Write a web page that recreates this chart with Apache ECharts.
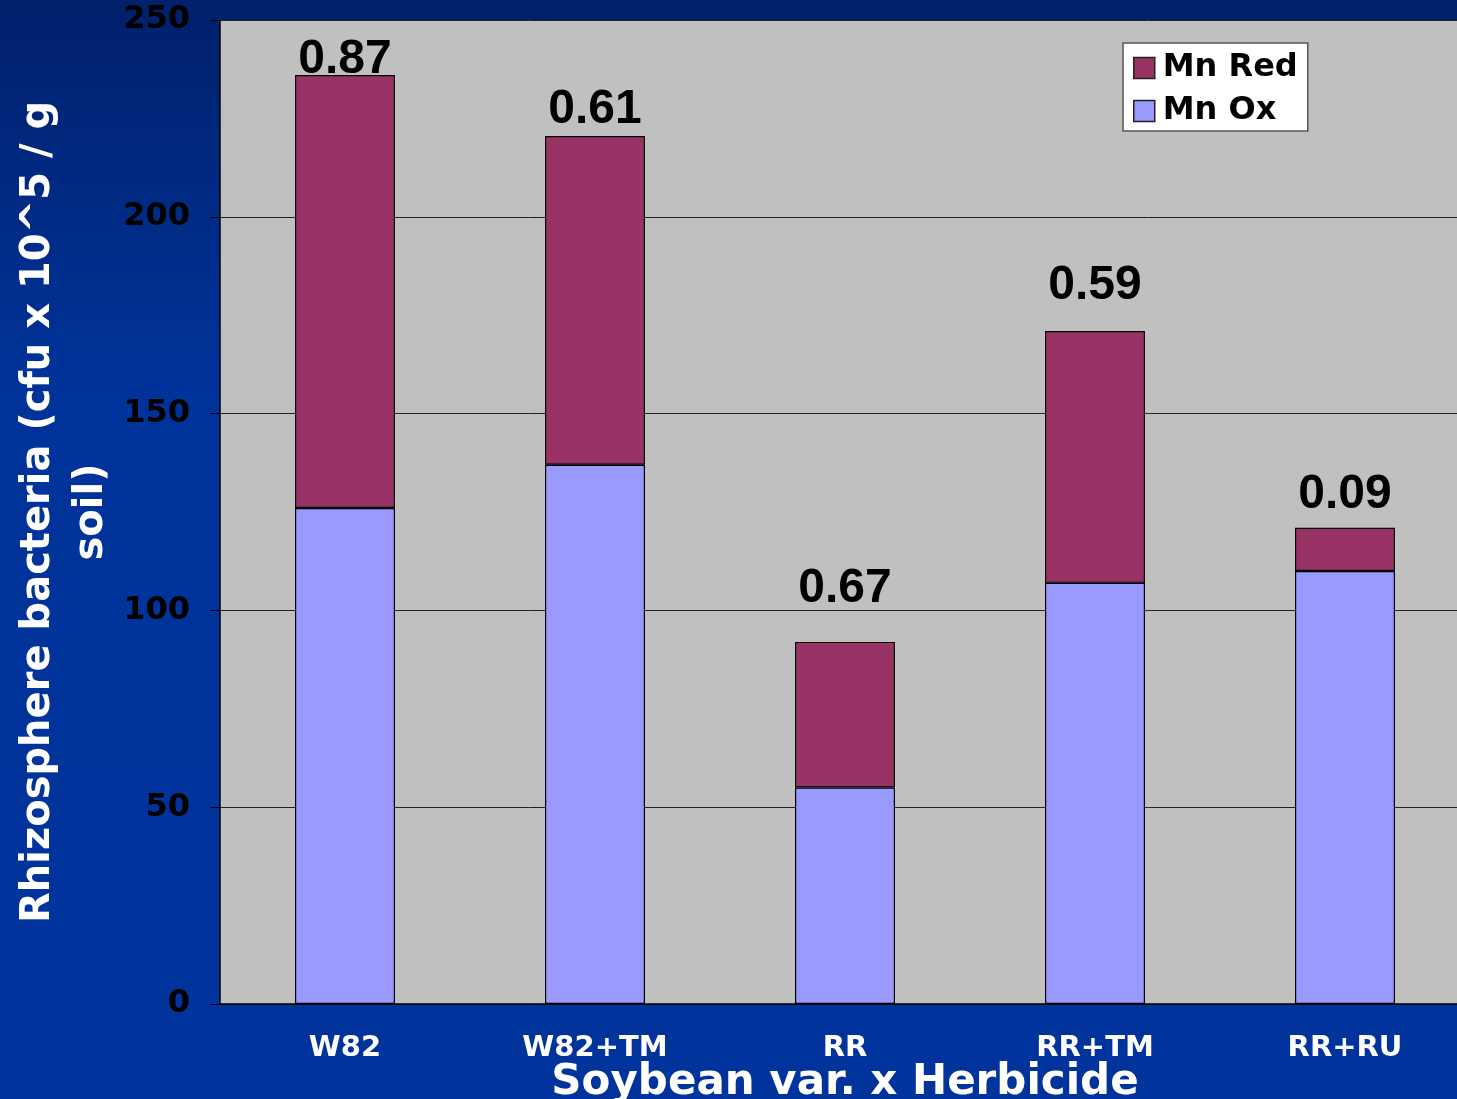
<!DOCTYPE html>
<html>
<head>
<meta charset="utf-8">
<style>
  html, body { margin: 0; padding: 0; }
  #chart { width: 1457px; height: 1099px; }
</style>
<script src="https://cdn.jsdelivr.net/npm/echarts@6/dist/echarts.min.js"></script>
</head>
<body>
<div id="chart"></div>
<script>
var categories = ['W82', 'W82+TM', 'RR', 'RR+TM', 'RR+RU'];
var mnOx = [126, 137, 55, 107, 110];
var mnRed = [110, 83.5, 37, 64, 11];
var ratios = ['0.87', '0.61', '0.67', '0.59', '0.09'];
var yTicks = [0, 50, 100, 150, 200, 250];

// the ratio texts sit at uneven heights above the bars in the original
var labelGaps = [-9, 2, 29, 21, 9];

var colors = {
    ox: '#9999ff',
    red: '#993366'
};

var chart = echarts.init(document.getElementById('chart'));

var redData = mnRed.map(function (v, i) {
    return { value: v, label: { distance: labelGaps[i] } };
});

var option = {
    backgroundColor: {
        type: 'linear', x: 0, y: 0, x2: 0, y2: 1,
        colorStops: [
            { offset: 0, color: '#00216b' },
            { offset: 0.35, color: '#00339a' },
            { offset: 1, color: '#00349c' }
        ]
    },
    animation: false,
    grid: {
        left: 220, right: -13, top: 20, bottom: 95,
        containLabel: false,
        outerBoundsMode: 'none'
    },
    legend: {
        left: 1123,
        top: 43,
        orient: 'vertical',
        backgroundColor: '#ffffff',
        borderColor: '#555555',
        borderWidth: 1.5,
        padding: [9, 10, 4, 10],
        itemGap: 11,
        itemWidth: 21,
        itemHeight: 21,
        icon: 'rect',
        textStyle: {
            fontFamily: 'DejaVu Sans',
            fontWeight: 'bold',
            fontSize: 32,
            color: '#000',
            padding: [0, 0, 0, 3]
        },
        data: [
            { name: 'Mn Red', itemStyle: { borderColor: '#222', borderWidth: 1.5 } },
            { name: 'Mn Ox', itemStyle: { borderColor: '#222', borderWidth: 1.5 } }
        ]
    },
    xAxis: {
        type: 'category',
        data: categories,
        name: 'Soybean var. x Herbicide',
        nameLocation: 'middle',
        nameGap: 58,
        nameMoveOverlap: false,
        nameTextStyle: {
            color: '#fff',
            fontFamily: 'DejaVu Sans',
            fontWeight: 'bold',
            fontSize: 42
        },
        axisLine: { lineStyle: { color: '#000', width: 1.5 } },
        axisTick: { length: 9, lineStyle: { color: '#000' } },
        axisLabel: {
            margin: 30,
            color: '#fff',
            fontFamily: 'DejaVu Sans',
            fontWeight: 'bold',
            fontSize: 29
        }
    },
    yAxis: {
        type: 'value',
        min: 0,
        max: 250,
        interval: 50,
        name: 'Rhizosphere bacteria (cfu x 10^5 / g\nsoil)',
        nameLocation: 'middle',
        nameRotate: 90,
        nameGap: 102,
        nameMoveOverlap: false,
        nameTextStyle: {
            color: '#fff',
            fontFamily: 'DejaVu Sans',
            fontWeight: 'bold',
            fontSize: 40,
            lineHeight: 53,
            align: 'center'
        },
        axisLine: { show: true, lineStyle: { color: '#000', width: 1.5 } },
        axisTick: { show: true, length: 10, lineStyle: { color: '#000' } },
        axisLabel: {
            margin: 30,
            color: '#000',
            fontFamily: 'DejaVu Sans',
            fontWeight: 'bold',
            fontSize: 32,
            formatter: function (v) {
                return yTicks.indexOf(v) >= 0 ? String(v) : '';
            }
        },
        splitLine: { lineStyle: { color: '#222', width: 1 } },
        splitArea: { show: true, areaStyle: { color: ['#c0c0c0'] } }
    },
    series: [
        {
            name: 'Mn Ox',
            type: 'bar',
            stack: 'total',
            barWidth: '40%',
            data: mnOx,
            itemStyle: { color: colors.ox, borderColor: '#000', borderWidth: 1.2 }
        },
        {
            name: 'Mn Red',
            type: 'bar',
            stack: 'total',
            barWidth: '40%',
            data: redData,
            z: 3,
            itemStyle: { color: colors.red, borderColor: '#000', borderWidth: 1.2 },
            label: {
                show: true,
                position: 'top',
                color: '#000',
                fontFamily: 'Liberation Sans',
                fontWeight: 'bold',
                fontSize: 48,
                formatter: function (p) {
                    return ratios[p.dataIndex];
                }
            }
        }
    ]
};

chart.setOption(option);
</script>
</body>
</html>
